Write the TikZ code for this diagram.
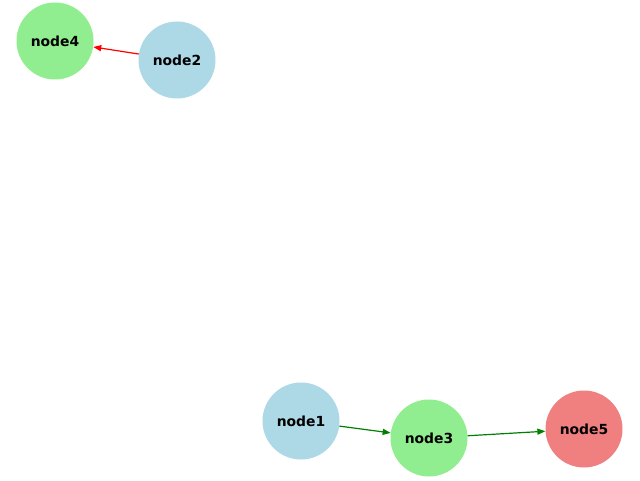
\documentclass[tikz,border=0pt]{standalone}
\usepackage{fontspec}
\setmainfont{DejaVu Sans}
\usetikzlibrary{arrows.meta}
\definecolor{nblue}{HTML}{ADD8E6}
\definecolor{ngreen}{HTML}{90EE90}
\definecolor{nred}{HTML}{F08080}
\definecolor{egreen}{HTML}{008000}
\begin{document}
\begin{tikzpicture}[x=1pt,y=1pt,
  gnode/.style={circle,minimum size=77pt,inner sep=0pt,font=\fontsize{13.9}{16}\selectfont\bfseries},
  edge/.style={line width=1.2pt,-{Triangle[length=8pt,width=6pt]}}]
\useasboundingbox (0,0) rectangle (640,480);
\node[gnode,fill=ngreen] (node4) at (55,439) {node4};
\node[gnode,fill=nblue] (node2) at (177,420) {node2};
\node[gnode,fill=nblue] (node1) at (301,59) {node1};
\node[gnode,fill=ngreen] (node3) at (429,42) {node3};
\node[gnode,fill=nred] (node5) at (584,51) {node5};
\draw[edge,red] (node2) -- (node4);
\draw[edge,egreen] (node1) -- (node3);
\draw[edge,egreen] (node3) -- (node5);
\end{tikzpicture}
\end{document}
